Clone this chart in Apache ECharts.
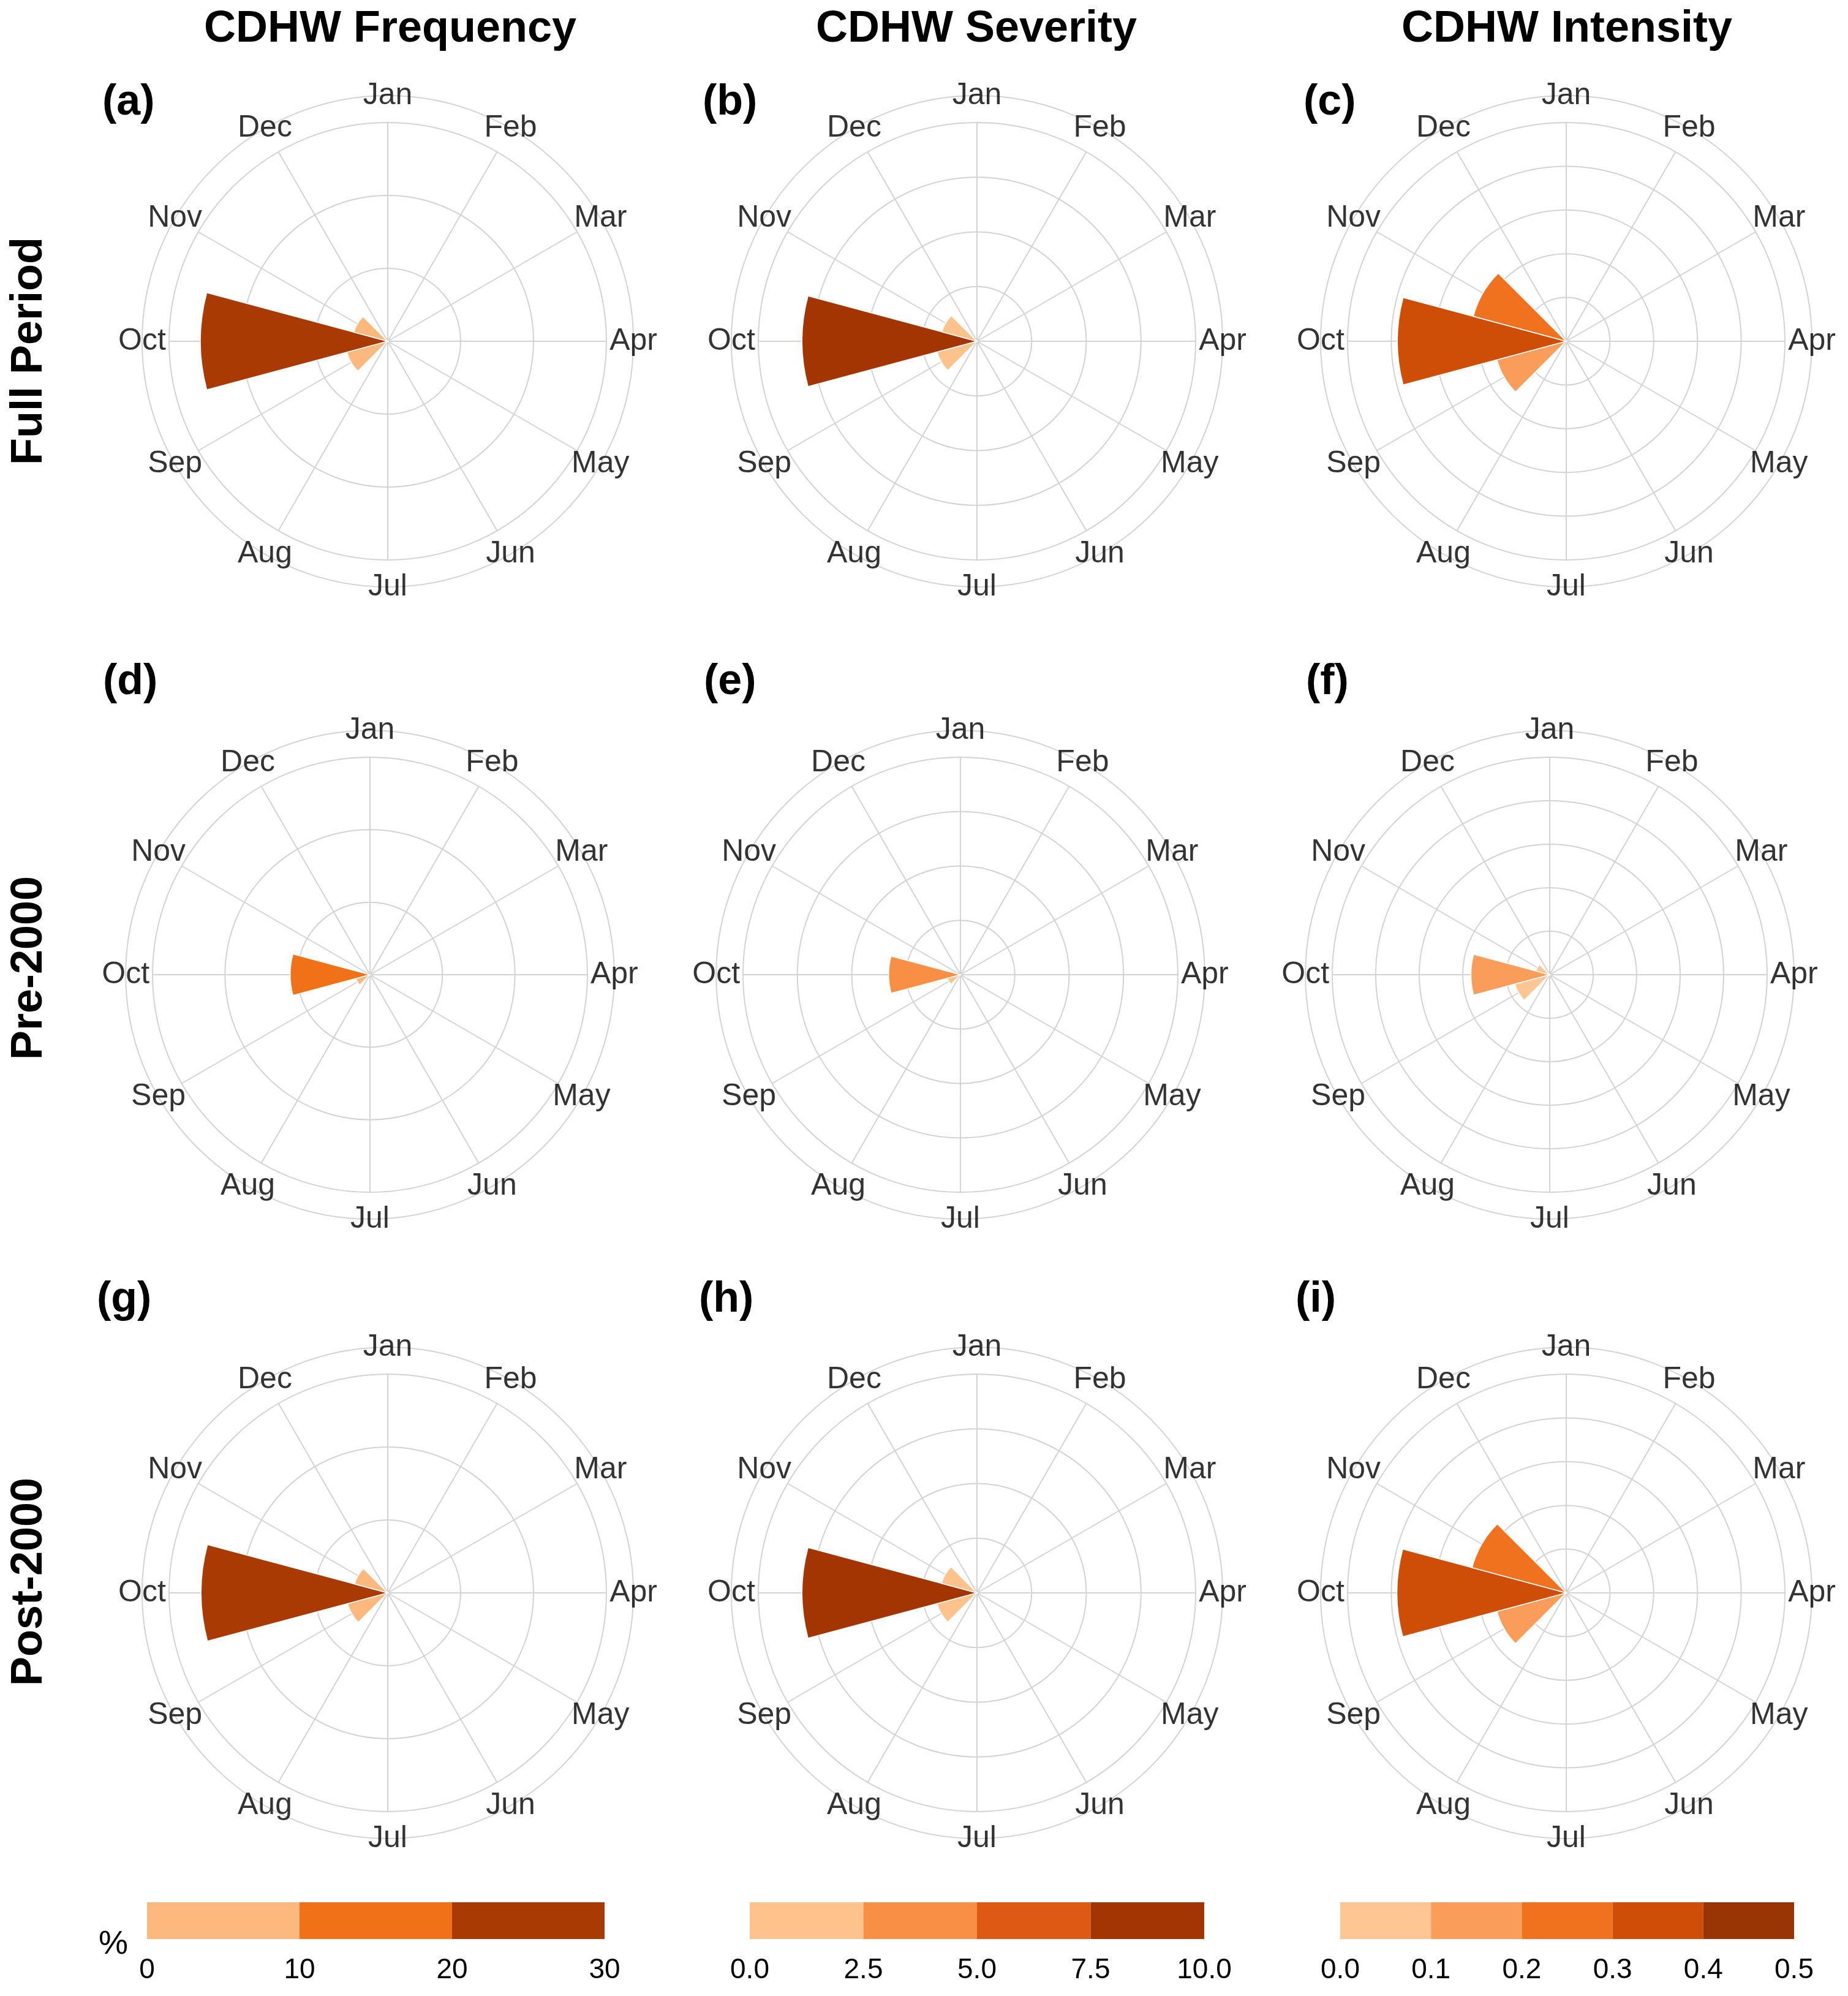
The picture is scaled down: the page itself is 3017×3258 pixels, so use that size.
<!DOCTYPE html>
<html><head><meta charset="utf-8">
<script src="https://cdn.jsdelivr.net/npm/echarts@6/dist/echarts.min.js"></script>
<style>html,body{margin:0;padding:0;background:#fff}#c{width:3017px;height:3258px}</style>
</head><body><div id="c"></div>
<script>
// ---------------- data ----------------
const months = ['Jan','Feb','Mar','Apr','May','Jun','Jul','Aug','Sep','Oct','Nov','Dec'];
// monthly values, Jan..Dec
const freqFull = [0,0,0,0,0,0,0,0,5.8,25.7,4.8,0];
const sevFull  = [0,0,0,0,0,0,0,0,1.89,8.0,1.66,0];
const intFull  = [0,0,0,0,0,0,0,0,0.164,0.386,0.22,0];
const freqPre  = [0,0,0,0,0,0,0,0,2.0,11.0,0,0];
const sevPre   = [0,0,0,0,0,0,0,0,0.62,3.3,0,0];
const intPre   = [0,0,0,0,0,0,0,0,0.083,0.181,0.033,0];
const freqPost = [0,0,0,0,0,0,0,0,5.7,25.6,4.7,0];
const sevPost  = [0,0,0,0,0,0,0,0,1.89,8.0,1.68,0];
const intPost  = [0,0,0,0,0,0,0,0,0.164,0.387,0.223,0];

const freqBreaks = [0,10,20,30];
const sevBreaks  = [0,2.5,5,7.5,10];
const intBreaks  = [0,0.1,0.2,0.3,0.4,0.5];
const freqTickLabels = ['0','10','20','30'];
const sevTickLabels  = ['0.0','2.5','5.0','7.5','10.0'];
const intTickLabels  = ['0.0','0.1','0.2','0.3','0.4','0.5'];
const freqColors = ['#FDB97D','#F07118','#AA3A03'];
const sevColors  = ['#FEC28D','#F98F45','#DE5A14','#A33503'];
const intColors  = ['#FEC692','#FB9D5A','#F0711E','#CE4D07','#993404'];

const columnTitles = ['CDHW Frequency','CDHW Severity','CDHW Intensity'];
const rowTitles = ['Full Period','Pre-2000','Post-2000'];
const panelTags = ['(a)','(b)','(c)','(d)','(e)','(f)','(g)','(h)','(i)'];
const legendUnit = '%';

// ---------------- layout ----------------
const FONT = '"Liberation Sans", Arial, Helvetica, sans-serif';
const GRID = '#D3D3D3';
const centers = [[633,557],[1595,557],[2557,557],[604,1591],[1568,1591],[2530,1591],[633,2600],[1595,2600],[2557,2600]];
const rMain = [357,357,357,355,355,355,357,357,357];
const tagPos = [[167,168],[1147,168],[2128,168],[168,1114],[1149,1114],[2132,1114],[158,2122],[1141,2122],[2115,2122]];
const colTitleX = [637,1594,2558];
const rowTitleY = [573,1580,2582];
const cbBoxes = [[240,747],[1224,742],[2188,741]];

const metrics = [
  {breaks:freqBreaks, colors:freqColors, ticks:freqTickLabels, rows:[freqFull,freqPre,freqPost]},
  {breaks:sevBreaks,  colors:sevColors,  ticks:sevTickLabels,  rows:[sevFull,sevPre,sevPost]},
  {breaks:intBreaks,  colors:intColors,  ticks:intTickLabels,  rows:[intFull,intPre,intPost]}
];
function colorFor(m, v){
  const b = m.breaks;
  for (let j=0;j<b.length-1;j++){ if (v <= b[j+1]) return m.colors[j]; }
  return m.colors[m.colors.length-1];
}
const hidden = {axisLine:{show:false}, axisTick:{show:false}, axisLabel:{show:false}, splitLine:{show:false}};

const polar=[], angleAxis=[], radiusAxis=[], series=[], grid=[], xAxis=[], yAxis=[], graphic=[];

for (let r=0;r<3;r++){
  for (let c=0;c<3;c++){
    const k = r*3+c, m = metrics[c], vals = m.rows[r];
    const [cx,cy] = centers[k];
    const R = rMain[k], Ro = R*1.1235;
    const vmax = m.breaks[m.breaks.length-1];
    const pi = polar.length;
    // grid polar: full-circle value angle axis (spokes) + radius circles
    polar.push({center:[cx,cy], radius:[0,R]});
    angleAxis.push({polarIndex:pi, type:'value', min:0, max:360, interval:30, startAngle:90,
      axisLine:{show:false}, axisTick:{show:false}, axisLabel:{show:false},
      splitLine:{show:true, lineStyle:{color:GRID, width:2}}, z:0});
    radiusAxis.push({polarIndex:pi, type:'value', min:0, max:vmax, interval:m.breaks[1]-m.breaks[0],
      axisLine:{show:false}, axisTick:{show:false}, axisLabel:{show:false},
      splitLine:{show:true, lineStyle:{color:GRID, width:2}}, z:0});
    // bar polar: months as categories centred on the spokes
    polar.push({center:[cx,cy], radius:[0,R]});
    angleAxis.push(Object.assign({polarIndex:pi+1, type:'category', data:months, boundaryGap:false, startAngle:90}, hidden));
    radiusAxis.push(Object.assign({polarIndex:pi+1, type:'value', min:0, max:vmax}, hidden));
    series.push({type:'bar', coordinateSystem:'polar', polarIndex:pi+1, barCategoryGap:'0%', silent:true,
      data: vals.map(v=>({value:v, itemStyle:{color:colorFor(m,v)}})),
      itemStyle:{borderColor:'#fff', borderWidth:1.5}, z:2});
    // outer polar: outer ring + month labels
    polar.push({center:[cx,cy], radius:[0,Ro]});
    angleAxis.push({polarIndex:pi+2, type:'value', min:0, max:360, interval:30, startAngle:90,
      axisLine:{show:true, lineStyle:{color:GRID, width:2}}, axisTick:{show:false}, axisLabel:{show:false},
      splitLine:{show:false}, z:0});
    radiusAxis.push(Object.assign({polarIndex:pi+2, type:'value', min:0, max:1}, hidden));
    series.push({type:'scatter', coordinateSystem:'polar', polarIndex:pi+2, silent:true,
      symbolSize:1, itemStyle:{color:'rgba(0,0,0,0)'},
      data: months.map((mn,i)=>({name:mn, value:[1, i*30]})),
      label:{show:true, position:'inside', formatter:'{b}', fontSize:50, color:'#000', fontFamily:FONT}, z:5});
    graphic.push({type:'text', x:tagPos[k][0], y:tagPos[k][1],
      style:{text:panelTags[k], fontSize:70, fontWeight:'bold', fontFamily:FONT, fill:'#000', align:'left', verticalAlign:'middle'}});
  }
}

// colour bars
for (let c=0;c<3;c++){
  const m = metrics[c];
  grid.push({left:cbBoxes[c][0], top:3105, width:cbBoxes[c][1], height:60});
  xAxis.push({gridIndex:c, type:'value', min:0, max:m.breaks[m.breaks.length-1], interval:m.breaks[1]-m.breaks[0],
    axisLine:{show:false}, axisTick:{show:false}, splitLine:{show:false},
    axisLabel:{show:true, fontSize:46, color:'#000', fontFamily:FONT, margin:28,
      formatter:(v)=>{ const i = m.breaks.findIndex(b=>Math.abs(b-v)<1e-9); return i>=0 ? m.ticks[i] : ''; }}});
  yAxis.push({gridIndex:c, type:'category', data:['cb'], show:false});
  for (let j=0;j<m.colors.length;j++){
    series.push({type:'bar', xAxisIndex:c, yAxisIndex:c, stack:'cb'+c, barWidth:'100%', silent:true,
      data:[m.breaks[j+1]-m.breaks[j]], itemStyle:{color:m.colors[j]}});
  }
}

// titles
for (let c=0;c<3;c++){
  graphic.push({type:'text', x:colTitleX[c], y:48,
    style:{text:columnTitles[c], fontSize:72, fontWeight:'bold', fontFamily:FONT, fill:'#000', align:'center', verticalAlign:'middle'}});
}
for (let r=0;r<3;r++){
  graphic.push({type:'text', x:48, y:rowTitleY[r], rotation:Math.PI/2,
    style:{text:rowTitles[r], fontSize:72, fontWeight:'bold', fontFamily:FONT, fill:'#000', align:'center', verticalAlign:'middle'}});
}
graphic.push({type:'text', x:185, y:3174,
  style:{text:legendUnit, fontSize:54, fontFamily:FONT, fill:'#000', align:'center', verticalAlign:'middle'}});

const chart = echarts.init(document.getElementById('c'), null, {renderer:'canvas'});
chart.setOption({
  animation:false, backgroundColor:'#fff',
  polar, angleAxis, radiusAxis, grid, xAxis, yAxis, series, graphic
});
</script></body></html>
